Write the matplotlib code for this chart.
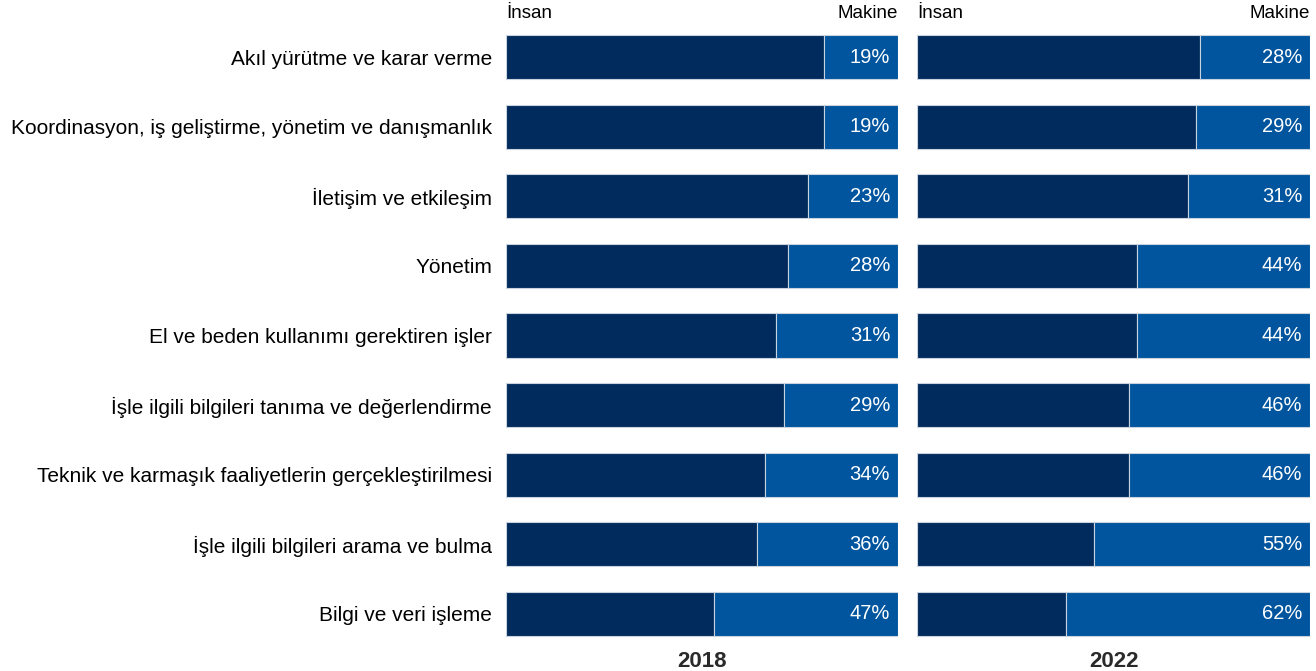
import matplotlib
matplotlib.use("Agg")
import matplotlib.pyplot as plt

categories = [
    "Akıl yürütme ve karar verme",
    "Koordinasyon, iş geliştirme, yönetim ve danışmanlık",
    "İletişim ve etkileşim",
    "Yönetim",
    "El ve beden kullanımı gerektiren işler",
    "İşle ilgili bilgileri tanıma ve değerlendirme",
    "Teknik ve karmaşık faaliyetlerin gerçekleştirilmesi",
    "İşle ilgili bilgileri arama ve bulma",
    "Bilgi ve veri işleme",
]
machine_2018 = [19, 19, 23, 28, 31, 29, 34, 36, 47]
machine_2022 = [28, 29, 31, 44, 44, 46, 46, 55, 62]
years = ["2018", "2022"]
human_label = "İnsan"
machine_label = "Makine"

plt.rcParams['font.family'] = ['Liberation Sans', 'DejaVu Sans']

HUMAN = "#002b5c"
MACHINE = "#00559e"
EDGE = "#c9d3e0"

W, H = 1316, 671
fig = plt.figure(figsize=(W / 100, H / 100), dpi=100)

top_px, bot_px = 22.2, 648.8
ax_b = 1 - bot_px / H
ax_h = (bot_px - top_px) / H
axes = [
    fig.add_axes([506 / W, ax_b, 392 / W, ax_h]),
    fig.add_axes([917 / W, ax_b, 393 / W, ax_h]),
]

for ax, vals, year in zip(axes, [machine_2018, machine_2022], years):
    y = list(range(len(categories)))
    human = [100 - v for v in vals]
    ax.barh(y, human, height=0.635, color=HUMAN, edgecolor=EDGE, linewidth=0.8)
    ax.barh(y, vals, left=human, height=0.635, color=MACHINE, edgecolor=EDGE, linewidth=0.8)
    for yi, v in zip(y, vals):
        ax.text(98, yi, f"{v}%", color="white", ha="right", va="center", fontsize=14.5)
    ax.set_xlim(0, 100)
    ax.set_ylim(len(categories) - 0.5, -0.5)
    ax.set_xticks([])
    ax.set_yticks([])
    for s in ax.spines.values():
        s.set_visible(False)
    ax.text(0, 1.0, human_label, transform=ax.transAxes, ha="left", va="bottom", fontsize=13.5)
    ax.text(1.0, 1.0, machine_label, transform=ax.transAxes, ha="right", va="bottom", fontsize=13.5)
    ax.text(0.5, -0.003, year, transform=ax.transAxes, ha="center", va="top",
            fontsize=16, fontweight="bold", color="#2a2a2a")

axes[0].set_yticks(range(len(categories)))
axes[0].set_yticklabels(categories, fontsize=15)
axes[0].tick_params(axis="y", length=0, pad=10)
for lbl in axes[0].get_yticklabels():
    lbl.set_y(lbl.get_position()[1])

fig.savefig("out.png", dpi=100)
